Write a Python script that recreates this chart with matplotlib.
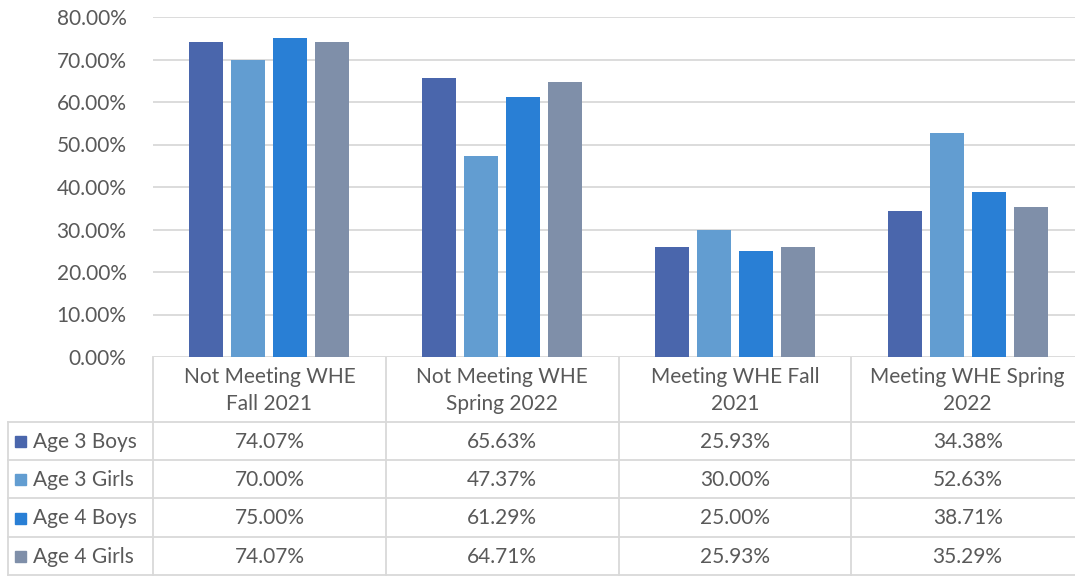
import matplotlib.pyplot as plt
from matplotlib.patches import Rectangle
import numpy as np

plt.rcParams['font.family'] = ['Lato', 'DejaVu Sans']

categories = ['Not Meeting WHE\nFall 2021', 'Not Meeting WHE\nSpring 2022',
              'Meeting WHE Fall\n2021', 'Meeting WHE Spring\n2022']
series_names = ['Age 3 Boys', 'Age 3 Girls', 'Age 4 Boys', 'Age 4 Girls']
age3_boys = [74.07, 65.63, 25.93, 34.38]
age3_girls = [70.00, 47.37, 30.00, 52.63]
age4_boys = [75.00, 61.29, 25.00, 38.71]
age4_girls = [74.07, 64.71, 25.93, 35.29]
yticks = [0, 10, 20, 30, 40, 50, 60, 70, 80]

series = [age3_boys, age3_girls, age4_boys, age4_girls]
colors = ['#4A66AC', '#629DD1', '#297FD5', '#7F8FA9']
txt = '#595959'
grid = '#D9D9D9'
fs = 15

W, H = 1075, 577
fig = plt.figure(figsize=(W / 100, H / 100), dpi=100)

# pixel layout (table runs slightly past the right edge, as in the source)
left, right, top, base = 153, 1084, 17, 357
ax = fig.add_axes([left / W, 1 - base / H, (right - left) / W, (base - top) / H])
ax.set_xlim(0, len(categories))
ax.set_ylim(0, 80)

colw = (right - left) / 4
bw = 34 / colw
step = 42 / colw
x = np.arange(len(categories)) + 0.5
for i, vals in enumerate(series):
    ax.bar(x + (i - 1.5) * step, vals, width=bw, color=colors[i], zorder=3)

ax.set_yticks(yticks)
ax.set_yticklabels(['%.2f%%' % v for v in yticks], fontsize=fs, color=txt)
ax.tick_params(axis='y', length=0, pad=19)
ax.set_xticks([])
ax.grid(axis='y', color=grid, linewidth=1.3, zorder=0)
for s in ax.spines.values():
    s.set_visible(False)

# table drawn in pixel coordinates
tab = fig.add_axes([0, 0, 1, 1], zorder=-1)
tab.set_xlim(0, W)
tab.set_ylim(H, 0)
tab.axis('off')

col_edges = np.linspace(left, right, 5)
row_edges = [422, 460, 498, 537, 575]
lc = dict(color=grid, linewidth=1.3)
for xe in col_edges:
    tab.plot([xe, xe], [base, row_edges[-1]], **lc)
tab.plot([8, 8], [row_edges[0], row_edges[-1]], **lc)
for ye in row_edges:
    tab.plot([8, right], [ye, ye], **lc)

for j, cat in enumerate(categories):
    cx = (col_edges[j] + col_edges[j + 1]) / 2
    tab.text(cx, (base + row_edges[0]) / 2 + 1, cat, ha='center', va='center',
             fontsize=fs, color=txt, linespacing=1.42)

for i, name in enumerate(series_names):
    cy = (row_edges[i] + row_edges[i + 1]) / 2 + 1
    tab.add_patch(Rectangle((15, cy - 6), 11, 11, color=colors[i]))
    tab.text(33, cy, name, ha='left', va='center', fontsize=fs, color=txt)
    for j, v in enumerate(series[i]):
        cx = (col_edges[j] + col_edges[j + 1]) / 2
        tab.text(cx, cy, '%.2f%%' % v, ha='center', va='center', fontsize=fs, color=txt)

fig.savefig('out.png', dpi=100)
